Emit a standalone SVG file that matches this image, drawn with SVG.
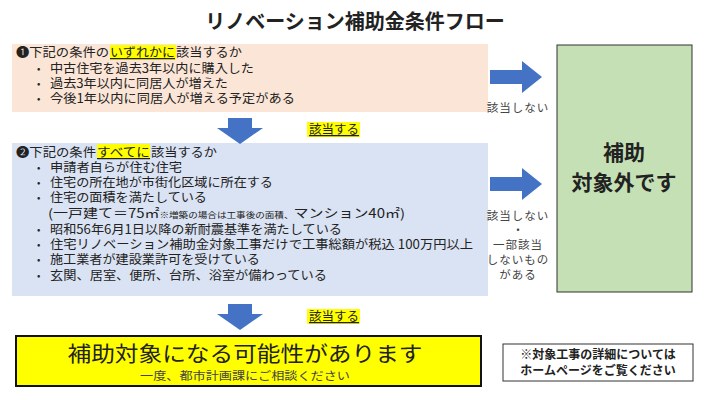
<svg xmlns="http://www.w3.org/2000/svg" width="710" height="400" viewBox="0 0 710 400">
<style>
text{font-family:"Noto Sans CJK JP","Noto Sans CJK SC",sans-serif;fill:#222}
.b{font-size:12.5px}
.d{font-size:10px}
.s{font-size:11.5px;fill:#444}
.hl{fill:#ffff00}
</style>
<defs>
<polygon id="ra" points="0,-7 32,-7 32,-16 52,0 32,16 32,7 0,7" fill="#4472c4"/>
<polygon id="da" points="-12,0 12,0 12,10 23,10 0,26 -23,10 -12,10" fill="#4472c4"/>
</defs>
<rect width="710" height="400" fill="#fff"/>
<text x="355" y="29" font-size="20" font-weight="bold" text-anchor="middle">リノベーション補助金条件フロー</text>
<g id="cond1">
<rect x="12" y="44" width="476" height="68" fill="#fbe5d6"/>
<rect x="110" y="45" width="66" height="15" class="hl"/>
<text class="b" x="16" y="57" textLength="93" lengthAdjust="spacingAndGlyphs">❶下記の条件の</text>
<text class="b" x="110" y="57" textLength="65" lengthAdjust="spacingAndGlyphs" text-decoration="underline">いずれかに</text>
<text class="b" x="176" y="57" textLength="66" lengthAdjust="spacingAndGlyphs">該当するか</text>
<text class="d" x="37" y="72">•</text><text class="b" x="50" y="73" textLength="204" lengthAdjust="spacingAndGlyphs">中古住宅を過去3年以内に購入した</text>
<text class="d" x="37" y="87">•</text><text class="b" x="50" y="88" textLength="178" lengthAdjust="spacingAndGlyphs">過去3年以内に同居人が増えた</text>
<text class="d" x="37" y="102">•</text><text class="b" x="50" y="103" textLength="245" lengthAdjust="spacingAndGlyphs">今後1年以内に同居人が増える予定がある</text>
</g>
<g id="cond2">
<rect x="12" y="143" width="476" height="153" fill="#dae3f3"/>
<rect x="97" y="144" width="53" height="15" class="hl"/>
<text class="b" x="16" y="157" textLength="80" lengthAdjust="spacingAndGlyphs">❷下記の条件</text>
<text class="b" x="97" y="157" textLength="53" lengthAdjust="spacingAndGlyphs" text-decoration="underline">すべてに</text>
<text class="b" x="151" y="157" textLength="66" lengthAdjust="spacingAndGlyphs">該当するか</text>
<text class="d" x="37" y="171">•</text><text class="b" x="50" y="172" textLength="132" lengthAdjust="spacingAndGlyphs">申請者自らが住む住宅</text>
<text class="d" x="37" y="186">•</text><text class="b" x="50" y="187" textLength="223" lengthAdjust="spacingAndGlyphs">住宅の所在地が市街化区域に所在する</text>
<text class="d" x="37" y="201">•</text><text class="b" x="50" y="202" textLength="157" lengthAdjust="spacingAndGlyphs">住宅の面積を満たしている</text>
<text class="b" x="48" y="218" textLength="357" lengthAdjust="spacingAndGlyphs">(一戸建て＝75㎡<tspan font-size="8">※増築の場合は工事後の面積、</tspan>マンション40㎡)</text>
<text class="d" x="37" y="233">•</text><text class="b" x="50" y="234" textLength="292" lengthAdjust="spacingAndGlyphs">昭和56年6月1日以降の新耐震基準を満たしている</text>
<text class="d" x="37" y="248">•</text><text class="b" x="50" y="249" textLength="423" lengthAdjust="spacingAndGlyphs">住宅リノベーション補助金対象工事だけで工事総額が税込 100万円以上</text>
<text class="d" x="37" y="263">•</text><text class="b" x="50" y="264" textLength="210" lengthAdjust="spacingAndGlyphs">施工業者が建設業許可を受けている</text>
<text class="d" x="37" y="279">•</text><text class="b" x="50" y="280" textLength="277" lengthAdjust="spacingAndGlyphs">玄関、居室、便所、台所、浴室が備わっている</text>
</g>
<g id="notEligible">
<rect x="557" y="45" width="135" height="247" fill="#c5e0b4" stroke="#333" stroke-width="1"/>
<text x="624" y="160" font-size="21" font-weight="bold" text-anchor="middle">補助</text>
<text x="624" y="190" font-size="21" font-weight="bold" text-anchor="middle">対象外です</text>
</g>
<g id="eligible">
<rect x="16" y="336" width="465" height="50" fill="#ffff00" stroke="#111" stroke-width="2"/>
<text x="245" y="361" font-size="21" text-anchor="middle" textLength="355" lengthAdjust="spacingAndGlyphs">補助対象になる可能性があります</text>
<text x="245" y="380" class="s" text-anchor="middle" textLength="210" lengthAdjust="spacingAndGlyphs">一度、都市計画課にご相談ください</text>
</g>
<g id="note">
<rect x="503" y="344" width="190" height="37" fill="#fff" stroke="#333" stroke-width="1"/>
<text x="598" y="359" font-size="12" font-weight="bold" text-anchor="middle">※対象工事の詳細については</text>
<text x="598" y="375" font-size="12" font-weight="bold" text-anchor="middle">ホームページをご覧ください</text>
</g>
<g id="connectors">
<use href="#da" x="240" y="118"/>
<rect x="307" y="122" width="53" height="15" class="hl"/>
<text class="b" x="309" y="134" text-decoration="underline">該当する</text>
<use href="#da" x="240" y="304"/>
<rect x="307" y="309" width="53" height="15" class="hl"/>
<text class="b" x="309" y="321" text-decoration="underline">該当する</text>
<use href="#ra" x="490" y="77"/>
<text class="s" x="518" y="112" text-anchor="middle" letter-spacing="1">該当しない</text>
<use href="#ra" x="490" y="184"/>
<text class="s" x="518" y="220" text-anchor="middle" letter-spacing="1">該当しない</text>
<text class="s" x="518" y="234" text-anchor="middle">・</text>
<text class="s" x="518" y="249" text-anchor="middle" letter-spacing="1">一部該当</text>
<text class="s" x="518" y="264" text-anchor="middle" letter-spacing="1">しないもの</text>
<text class="s" x="518" y="279" text-anchor="middle" letter-spacing="1">がある</text>
</g>
</svg>
